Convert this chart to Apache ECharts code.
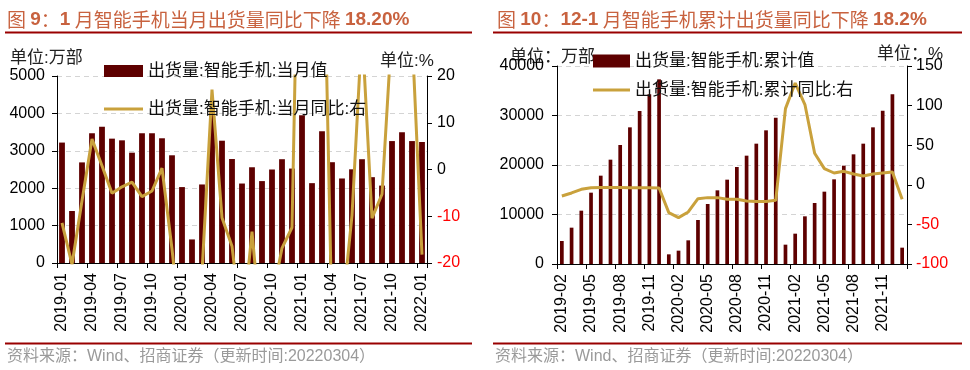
<!DOCTYPE html>
<html><head><meta charset="utf-8">
<script src="https://cdn.jsdelivr.net/npm/echarts@6/dist/echarts.min.js"></script>
<style>html,body{margin:0;padding:0;background:#fff}#c{width:970px;height:370px}</style>
</head><body><div id="c"></div>
<script>
// ---------- Data ----------
const monthsL = ['2019-01','2019-02','2019-03','2019-04','2019-05','2019-06','2019-07','2019-08','2019-09','2019-10','2019-11','2019-12',
  '2020-01','2020-02','2020-03','2020-04','2020-05','2020-06','2020-07','2020-08','2020-09','2020-10','2020-11','2020-12',
  '2021-01','2021-02','2021-03','2021-04','2021-05','2021-06','2021-07','2021-08','2021-09','2021-10','2021-11','2021-12','2022-01'];
const monthlyShip = [3220,1390,2690,3470,3645,3325,3280,2950,3470,3470,3335,2880,
  2030,630,2100,4016,3270,2780,2125,2560,2190,2500,2775,2525,
  3950,2135,3520,2695,2260,2505,2775,2295,2070,3260,3495,3260,3236];
const monthlyYoY = [-11.4,-20.3,-6.7,6.5,0.8,-5.1,-3.7,-2.7,-5.8,-4.6,0.3,-17,
  -37,-54.7,-22,17.1,-10.3,-16.4,-35,-13.3,-36.9,-27.9,-16.8,-12.4,
  94.7,238,67.8,-33,-31,-9.8,30.2,-10.4,-5.3,30.6,26,29.2,-18.2];

const monthsR = ['2019-02','2019-03','2019-04','2019-05','2019-06','2019-07','2019-08','2019-09','2019-10','2019-11','2019-12',
  '2020-01','2020-02','2020-03','2020-04','2020-05','2020-06','2020-07','2020-08','2020-09','2020-10','2020-11','2020-12',
  '2021-01','2021-02','2021-03','2021-04','2021-05','2021-06','2021-07','2021-08','2021-09','2021-10','2021-11','2021-12','2022-01'];
const cumShip = [4646,7340,10774,14411,17845,21077,24040,27609,30909,34276,37306,
  1953,2694,4781,8889,12121,14882,17037,19596,21886,24310,27003,29562,
  3906,6128,9630,12323,14613,17104,19865,22155,24310,27609,30976,34276,3300];
const cumYoY = [-14.1,-10.3,-5.7,-3.6,-3.4,-3.5,-3.5,-3.6,-3.6,-3.7,-4.0,
  -35.1,-41.4,-34.3,-17.5,-16.2,-16.2,-18.3,-18.3,-20.4,-21.2,-21,-19.6,
  96.2,128.5,101.3,39.8,20.4,14.9,17,13.6,11.1,13.6,14.9,16.2,-18.3];

const namesL = ['出货量:智能手机:当月值','出货量:智能手机:当月同比:右'];
const namesR = ['出货量:智能手机:累计值','出货量:智能手机:累计同比:右'];

// ---------- Styles ----------
const FONT = "'Liberation Sans', Arial, 'Noto Sans CJK SC', sans-serif";
const BAR = '#5e0000';
const LINE = '#c9a13c';
const TITLE = '#c8623f';
const RULE = '#990000';
const LINE_ICON = 'path://M0,0 L40,0 L40,3 L0,3 Z';
const negRed = v => (Number(v) < 0 ? '#ff0000' : '#000000');
const plain = v => String(v);

function xAx(grid, data) {
  return {
    type: 'category', gridIndex: grid, data: data, boundaryGap: true,
    axisLine: { lineStyle: { color: '#000', width: 1 } },
    axisTick: { show: true, interval: 2, length: 5, alignWithLabel: false, lineStyle: { color: '#000' } },
    axisLabel: { interval: 2, rotate: 90, margin: 10, fontSize: 16, fontFamily: FONT, color: '#000' },
    splitLine: { show: false }
  };
}
function yAx(grid, pos, min, max, interval, split, colorFn, margin) {
  return {
    type: 'value', gridIndex: grid, position: pos, min: min, max: max, interval: interval,
    axisLine: { show: true, lineStyle: { color: '#000', width: 1 } },
    axisTick: { show: true, length: 5, lineStyle: { color: '#000' } },
    axisLabel: { fontSize: 16, fontFamily: FONT, margin: margin, color: colorFn || '#000', formatter: plain },
    splitLine: { show: split, lineStyle: { color: '#d4d4d4', type: [5, 4], width: 1 } }
  };
}
function txt(text, x, y, size, color, align) {
  return { type: 'text', x: x, y: y, silent: true,
    style: { text: text, fill: color, font: size + 'px ' + FONT, textAlign: align || 'left', align: align || 'left',
      textVerticalAlign: 'middle', verticalAlign: 'middle' } };
}
function rule(x1, x2, y) {
  return { type: 'line', silent: true, shape: { x1: x1, y1: y, x2: x2, y2: y }, style: { stroke: RULE, lineWidth: 2 } };
}
const richTitle = {
  c: { fontSize: 19, fontFamily: "'Noto Sans CJK SC', sans-serif", color: TITLE, lineHeight: 22 },
  d: { fontSize: 19, fontFamily: "'Liberation Sans', Arial, sans-serif", fontWeight: 'bold', color: TITLE, lineHeight: 22 }
};
function titleText(text, x, y) {
  return { type: 'text', x: x, y: y, silent: true,
    style: { text: text, rich: richTitle, fill: TITLE, font: '19px ' + FONT, textVerticalAlign: 'middle', verticalAlign: 'middle' } };
}

const chart = echarts.init(document.getElementById('c'), null, { renderer: 'canvas', width: 970, height: 370 });
chart.setOption({
  animation: false,
  backgroundColor: '#fff',
  grid: [
    { left: 57, top: 76, width: 370, height: 187, containLabel: false, outerBoundsMode: 'none' },
    { left: 557, top: 66, width: 350, height: 198, containLabel: false, outerBoundsMode: 'none' }
  ],
  legend: [
    { orient: 'vertical', left: 104, top: 62, padding: 0, itemWidth: 39, itemHeight: 12, itemGap: 20,
      symbolKeepAspect: true,
      textStyle: { fontSize: 17, fontFamily: FONT, color: '#111', lineHeight: 18 },
      data: [{ name: namesL[0], icon: 'rect' }, { name: namesL[1], icon: LINE_ICON }], selectedMode: false },
    { orient: 'vertical', left: 593, top: 52, padding: 0, itemWidth: 37, itemHeight: 13, itemGap: 11,
      symbolKeepAspect: true,
      textStyle: { fontSize: 17, fontFamily: FONT, color: '#111', lineHeight: 18 },
      data: [{ name: namesR[0], icon: 'rect' }, { name: namesR[1], icon: LINE_ICON }], selectedMode: false }
  ],
  xAxis: [xAx(0, monthsL), xAx(1, monthsR)],
  yAxis: [
    yAx(0, 'left', 0, 5000, 1000, true, null, 12),
    yAx(0, 'right', -20, 20, 10, false, negRed, 10),
    yAx(1, 'left', 0, 40000, 10000, true, null, 13),
    yAx(1, 'right', -100, 150, 50, false, negRed, 9)
  ],
  series: [
    { type: 'bar', name: namesL[0], xAxisIndex: 0, yAxisIndex: 0, data: monthlyShip, barWidth: '58%',
      itemStyle: { color: BAR }, z: 2 },
    { type: 'line', name: namesL[1], xAxisIndex: 0, yAxisIndex: 1, data: monthlyYoY, symbol: 'none', clip: true,
      lineStyle: { color: LINE, width: 3 }, itemStyle: { color: LINE }, z: 3 },
    { type: 'bar', name: namesR[0], xAxisIndex: 1, yAxisIndex: 2, data: cumShip, barWidth: '38%',
      itemStyle: { color: BAR }, z: 2 },
    { type: 'line', name: namesR[1], xAxisIndex: 1, yAxisIndex: 3, data: cumYoY, symbol: 'none', clip: true,
      lineStyle: { color: LINE, width: 3 }, itemStyle: { color: LINE }, z: 3 }
  ],
  graphic: [
    titleText('{c|图 }{d|9}{c|：}{d|1}{c| 月智能手机当月出货量同比下降 }{d|18.20%}', 7, 20),
    titleText('{c|图 }{d|10}{c|：}{d|12-1}{c| 月智能手机累计出货量同比下降 }{d|18.2%}', 497, 20),
    rule(5, 472, 32.5),
    rule(493, 962, 32.5),
    rule(5, 472, 343.5),
    rule(493, 962, 343.5),
    txt('单位:万部', 10, 58, 17, '#222'),
    txt('单位:%', 380, 61, 17, '#222'),
    txt('单位：万部', 510, 57, 17, '#222'),
    txt('单位：%', 877, 54, 17, '#222'),
    txt('资料来源：Wind、招商证券（更新时间:20220304）', 7, 357, 16, '#9a9a9a'),
    txt('资料来源：Wind、招商证券（更新时间:20220304）', 495, 357, 16, '#9a9a9a')
  ]
});
</script>
</body></html>
